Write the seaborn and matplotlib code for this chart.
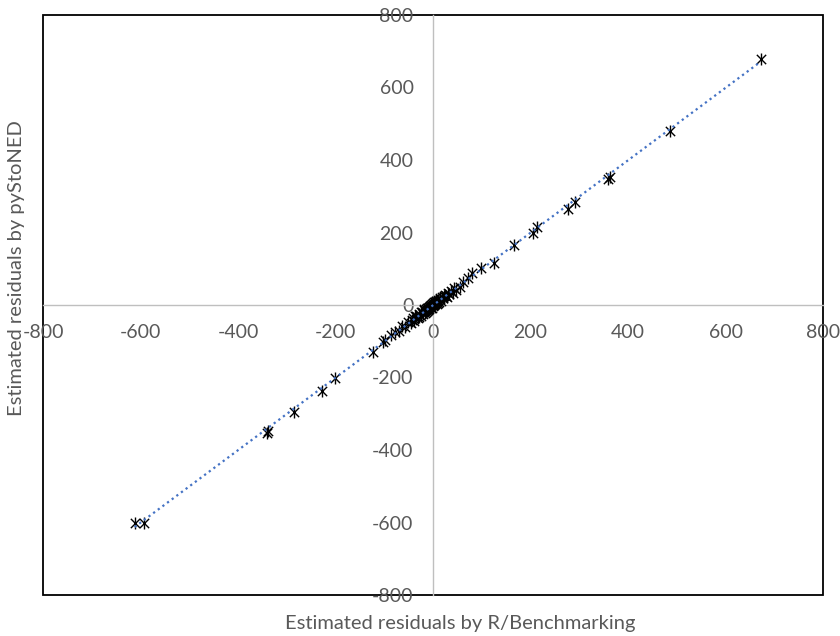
import numpy as np
import pandas as pd
import matplotlib
matplotlib.use("Agg")
import matplotlib.pyplot as plt
import seaborn as sns

# residuals estimated by R/Benchmarking (x) and by pyStoNED (y)
r_bench = [672, 486, 359, 363, 291, 276, 213, 205, 166, 125, 98, 80, 72, 62, 55,
           48, 44, 40, 36, 33, 30, 27, 24, 21, 18, 16, 14, 12, 10, 8, 6, 5, 4, 2,
           1, 0, -1, -2, -3, -4, -5, -6, -8, -9, -10, -12, -13, -15, -17, -19,
           -21, -23, -25, -28, -31, -34, -38, -42, -46, -52, -58, -64, -70, -78,
           -86, -98, -103, -123, -201, -228, -285, -340, -338, -612, -592,
           28, 22, 15, 11, 7, 3, -7, -11, -14, -18, -24, -29, -36, -44]
py_stoned = [680, 480, 348, 352, 284, 265, 215, 199, 166, 116, 102, 88, 74, 63, 50,
             42, 46, 33, 38, 30, 34, 24, 27, 18, 22, 12, 17, 9, 13, 4, 10, 2, 7, -1,
             5, 1, -4, 2, -7, 0, -9, -3, -12, -6, -14, -9, -17, -12, -22, -15,
             -26, -19, -30, -24, -36, -29, -43, -36, -50, -47, -60, -58, -72, -75,
             -84, -97, -102, -130, -201, -237, -295, -353, -348, -601, -601,
             22, 26, 20, 6, 12, 8, -2, -8, -18, -11, -20, -33, -31, -40]

ticks = [-800, -600, -400, -200, 0, 200, 400, 600, 800]
x_title = "Estimated residuals by R/Benchmarking"
y_title = "Estimated residuals by pyStoNED"

df = pd.DataFrame({"r": r_bench, "py": py_stoned})

sns.set_style("white")
plt.rcParams["font.family"] = ["Lato", "DejaVu Sans"]
grey = "#595959"

fig = plt.figure(figsize=(8.4, 6.36), dpi=100)
ax = fig.add_axes([43 / 840, 1 - 595 / 636, 780 / 840, 580 / 636])

# asterisk markers: an x with a vertical bar on top
sns.scatterplot(data=df, x="r", y="py", marker="x", s=45, color="black",
                linewidth=1.0, ax=ax, zorder=3)
sns.scatterplot(data=df, x="r", y="py", marker="|", s=75, color="black",
                linewidth=1.0, ax=ax, zorder=3)
sns.regplot(data=df, x="r", y="py", scatter=False, ci=None, truncate=True, ax=ax,
            line_kws=dict(color="#4472C4", linestyle=(0, (1, 1.6)), linewidth=1.6,
                          zorder=4))

ax.set_xlim(-800, 800)
ax.set_ylim(-800, 800)
ax.set_xticks(ticks)
ax.set_yticks(ticks)
ax.set_xticklabels([str(t) for t in ticks])
ax.set_yticklabels([str(t) for t in ticks])

# axes cross at zero, frame around the plot area
ax.spines["bottom"].set_position(("data", 0))
ax.spines["left"].set_position(("data", 0))
for s in ["bottom", "left"]:
    ax.spines[s].set_color("#bfbfbf")
    ax.spines[s].set_linewidth(1.0)
    ax.spines[s].set_zorder(1)
for s in ["top", "right"]:
    ax.spines[s].set_visible(False)
ax.patch.set_edgecolor("black")
ax.patch.set_linewidth(1.3)

ax.tick_params(axis="both", length=0, labelsize=14, labelcolor=grey)
ax.tick_params(axis="x", pad=14)
ax.tick_params(axis="y", pad=14)
ax.set_xlabel("")
ax.set_ylabel("")

fig.text(460 / 840, 1 - 623 / 636, x_title, ha="center", va="center",
         fontsize=14.5, color=grey)
fig.text(17 / 840, 1 - 268 / 636, y_title, ha="center", va="center",
         rotation=90, fontsize=14.5, color=grey)

fig.savefig("out.png", dpi=100)
plt.close(fig)
